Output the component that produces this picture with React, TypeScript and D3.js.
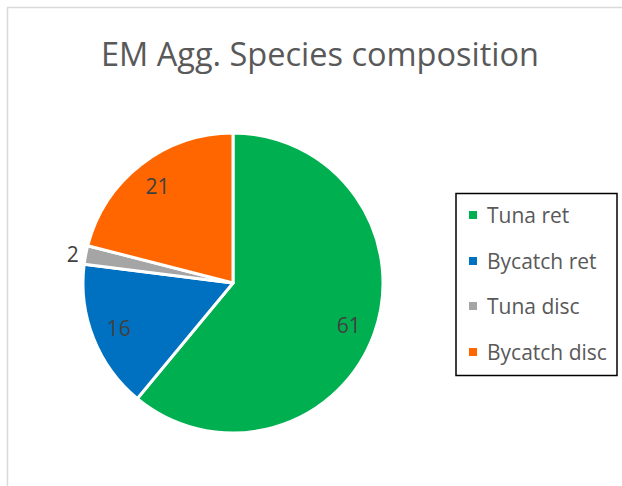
import React from "react";
import * as d3 from "d3";

const categories = ["Tuna ret", "Bycatch ret", "Tuna disc", "Bycatch disc"];
const values = [61, 16, 2, 21];
const colors = ["#00b050", "#0070c0", "#a5a5a5", "#ff6600"];
const title = "EM Agg. Species composition";

const W = 622;
const H = 486;
const FONT = "'Open Sans', Lato, 'Noto Sans', sans-serif";

export default function App() {
  const cx = 233;
  const cy = 283;
  const r = 150;
  const pie = d3.pie<number>().sort(null).startAngle(0).endAngle(2 * Math.PI);
  const arcs = pie(values);
  const arc = d3.arc<d3.PieArcDatum<number>>().innerRadius(0).outerRadius(r);
  const labelArc = d3.arc<d3.PieArcDatum<number>>().innerRadius(123 * 2 - r).outerRadius(r);
  const legendY = [215, 261, 306, 352];
  return (
    <svg width={W} height={H} style={{ position: "absolute", left: 0, top: 0 }}>
      <rect x={0} y={0} width={W} height={H} fill="#fff" />
      <rect x={7.5} y={7.5} width={W + 20} height={H + 20} fill="#fff" stroke="#d9d9d9" strokeWidth={1.5} />
      <text x={320} y={66} textAnchor="middle" fontFamily={FONT} fontSize={32.5} fill="#595959">
        {title}
      </text>
      <g transform={`translate(${cx},${cy})`}>
        {arcs.map((a, i) => (
          <path key={i} d={arc(a) || ""} fill={colors[i]} stroke="#fff" strokeWidth={3} strokeLinejoin="round" />
        ))}
        {arcs.map((a, i) => {
          const mid = (a.startAngle + a.endAngle) / 2;
          if (a.value < 5) {
            const rr = 157;
            const x = Math.sin(mid) * rr;
            const y = -Math.cos(mid) * rr;
            return (
              <text key={i} x={x} y={y} textAnchor="end" dominantBaseline="central" fontFamily={FONT} fontSize={21} fill="#404040">
                {a.value}
              </text>
            );
          }
          const [x, y] = labelArc.centroid(a);
          return (
            <text key={i} x={x} y={y} textAnchor="middle" dominantBaseline="central" fontFamily={FONT} fontSize={21} fill="#404040">
              {a.value}
            </text>
          );
        })}
      </g>
      <rect x={456} y={193.5} width={161} height={182} fill="#fff" stroke="#000" strokeWidth={1.5} />
      {categories.map((c, i) => (
        <g key={c}>
          <rect x={469} y={legendY[i] - 4} width={8} height={8} fill={colors[i]} />
          <text x={487} y={legendY[i]} dominantBaseline="central" fontFamily={FONT} fontSize={21} fill="#595959">
            {c}
          </text>
        </g>
      ))}
    </svg>
  );
}
